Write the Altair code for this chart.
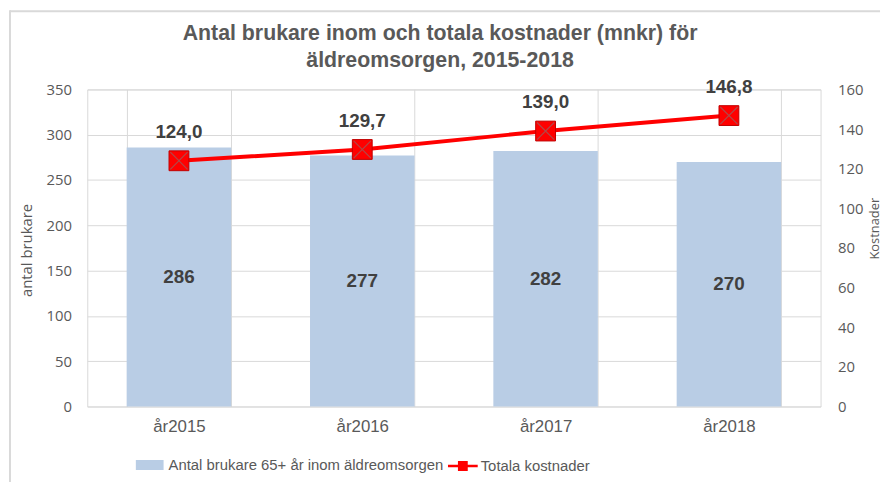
import altair as alt
import pandas as pd

years = ["år2015", "år2016", "år2017", "år2018"]
brukare = [286, 277, 282, 270]
kostnader = [124.0, 129.7, 139.0, 146.8]
serie_bar = "Antal brukare 65+ år inom äldreomsorgen"
serie_line = "Totala kostnader"

df = pd.DataFrame({
    "year": years,
    "brukare": brukare,
    "kost": kostnader,
    "kost_label": [f"{v:.1f}".replace(".", ",") for v in kostnader],
    "sb": [serie_bar] * len(years),
    "sl": [serie_line] * len(years),
})

GRID = "#D9D9D9"
TXT = "#595959"
LBL = "#404040"
BLUE = "#B9CDE5"
RED = "#FF0000"

x = alt.X("year:N", sort=years, title=None,
          scale=alt.Scale(paddingInner=0.43, paddingOuter=0.215),
          axis=alt.Axis(grid=True, gridColor=GRID, tickBand="extent", ticks=False,
                        domain=False, labelAngle=0, labelFont="Liberation Sans",
                        labelFontSize=17, labelColor=TXT, labelPadding=12))

left_axis = alt.Axis(values=list(range(0, 351, 50)), title="antal brukare",
                     grid=True, gridColor=GRID, domain=False, ticks=False,
                     labelFont="Open Sans", labelFontSize=15, labelColor=TXT,
                     labelPadding=16, titleFont="Open Sans", titleFontSize=15,
                     titleFontWeight="normal", titleColor=TXT,
                     titleX=-61, titleY=162, titleBaseline="middle")
left_scale = alt.Scale(domain=[0, 350])

right_axis = alt.Axis(orient="right", values=list(range(0, 161, 20)), title="Kostnader",
                      grid=False, domain=False, ticks=False,
                      labelFont="Open Sans", labelFontSize=15, labelColor=TXT,
                      labelPadding=17, titleFont="Open Sans", titleFontSize=13,
                      titleFontWeight="normal", titleColor=TXT, titleAngle=-90,
                      titleX=54, titleY=140, titleBaseline="middle")
right_scale = alt.Scale(domain=[0, 160])

base = alt.Chart(df)

bars = base.mark_bar().encode(
    x=x,
    y=alt.Y("brukare:Q", scale=left_scale, axis=left_axis),
    color=alt.Color("sb:N", scale=alt.Scale(domain=[serie_bar], range=[BLUE]),
                    legend=alt.Legend(title=None, orient="none", legendX=49, legendY=365,
                                      symbolType="M-1,-0.36H1V0.36H-1Z", symbolSize=784,
                                      symbolStrokeWidth=0, labelFont="Liberation Sans",
                                      labelFontSize=15, labelColor=TXT, labelOffset=5,
                                      labelLimit=500)),
)

bar_text = base.transform_calculate(brukare="datum.brukare / 2").mark_text(
    font="Liberation Sans", fontSize=19, fontWeight="bold", color=LBL, baseline="middle"
).encode(x=x, y=alt.Y("brukare:Q", scale=left_scale, axis=left_axis),
         text=alt.Text("label:N")).transform_calculate(label="'' + (datum.brukare * 2)")

left = alt.layer(bars, bar_text)

yr = alt.Y("kost:Q", scale=right_scale, axis=right_axis)

line = base.mark_line(color=RED, strokeWidth=4).encode(x=x, y=yr)
pts = base.mark_point(shape="square", filled=True, size=400, opacity=1,
                      stroke="#C00000", strokeWidth=1).encode(
    x=x, y=yr,
    color=alt.Color("sl:N", scale=alt.Scale(domain=[serie_line], range=[RED]),
                    legend=alt.Legend(title=None, orient="none", legendX=364, legendY=365,
                                      symbolType="M-1,-0.09H-0.33V-0.33H0.33V-0.09H1V0.09H0.33V0.33H-0.33V0.09H-1Z",
                                      symbolSize=900, symbolFillColor=RED, symbolStrokeWidth=0,
                                      labelFont="Liberation Sans", labelFontSize=15,
                                      labelColor=TXT, labelOffset=3, labelLimit=500)),
)
xs = base.mark_point(shape="M-1,-1L1,1M-1,1L1,-1", filled=False, size=300,
                     color="#B04848", strokeWidth=1.2, opacity=1).encode(x=x, y=yr)
pt_text = base.mark_text(font="Liberation Sans", fontSize=19, fontWeight="bold",
                         color=LBL, baseline="middle", dy=-29).encode(
    x=x, y=yr, text="kost_label:N")

right = alt.layer(line, pts, xs, pt_text)

frame_df = pd.DataFrame({"a": [0]})
frame_left = alt.Chart(frame_df).mark_rule(color=GRID, strokeWidth=2).encode(
    x=alt.value(-78), y=alt.value(-80), y2=alt.value(400))
frame_top = alt.Chart(frame_df).mark_rule(color=GRID, strokeWidth=2).encode(
    x=alt.value(-78), x2=alt.value(800), y=alt.value(-79))

chart = alt.layer(left, right, frame_left, frame_top).resolve_scale(
    y="independent", color="independent"
).properties(
    width=740, height=320,
    autosize=alt.AutoSizeParams(type="none"),
    padding={"left": 80, "top": 80, "right": 64, "bottom": 74},
    title=alt.Title(
        text=["Antal brukare inom och totala kostnader (mnkr) för", "äldreomsorgen, 2015-2018"],
        font="Liberation Sans", fontSize=21.5, fontWeight="bold", color=TXT,
        anchor="middle", offset=0, dy=63, lineHeight=27, dx=-14),
).configure_view(stroke=GRID)

chart.save("out.html", embed_options={"renderer": "svg", "actions": False})
